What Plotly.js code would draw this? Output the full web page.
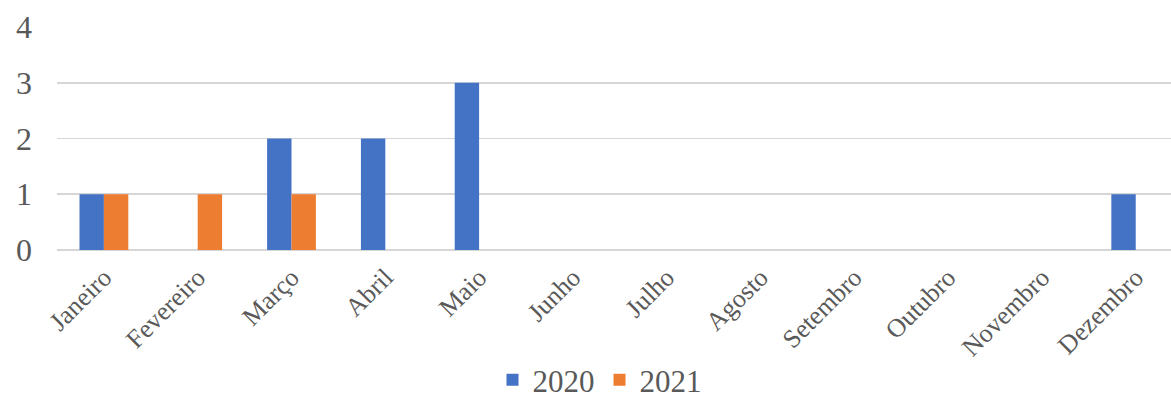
<!DOCTYPE html>
<html>
<head>
<meta charset="utf-8">
<script src="https://cdn.plot.ly/plotly-3.0.1.min.js"></script>
<style>
  html, body { margin: 0; padding: 0; background: #ffffff; }
  #chart { width: 1171px; height: 400px; }
</style>
</head>
<body>
<div id="chart"></div>
<script>
// Monthly counts for two years
const months = ["Janeiro", "Fevereiro", "Março", "Abril", "Maio", "Junho",
                "Julho", "Agosto", "Setembro", "Outubro", "Novembro", "Dezembro"];
const values2020 = [1, 0, 2, 2, 3, 0, 0, 0, 0, 0, 0, 1];
const values2021 = [1, 1, 1, 0, 0, 0, 0, 0, 0, 0, 0, 0];
const seriesNames = ["2020", "2021"];
const yTicks = [0, 1, 2, 3, 4];

const textColor = "#595959";
const serif = "Liberation Serif, Times New Roman, serif";

const traces = [
  {
    type: "bar", name: seriesNames[0], x: months, y: values2020,
    marker: { color: "#4472C4", line: { width: 0 } },
    hoverinfo: "x+y+name"
  },
  {
    type: "bar", name: seriesNames[1], x: months, y: values2021,
    marker: { color: "#ED7D31", line: { width: 0 } },
    hoverinfo: "x+y+name"
  }
];

const layout = {
  width: 1171, height: 400,
  margin: { l: 57, r: 0, t: 27, b: 150, pad: 0, autoexpand: false },
  paper_bgcolor: "#ffffff", plot_bgcolor: "#ffffff",
  barmode: "group", bargap: 0.48, bargroupgap: 0,
  font: { family: serif, color: textColor },
  xaxis: {
    type: "category",
    range: [-0.5, 11.376],
    showgrid: false, zeroline: false, showline: false,
    ticks: "", tickangle: -45,
    tickfont: { family: serif, size: 26, color: textColor },
    ticklabelstandoff: 6,
    automargin: false,
    fixedrange: true
  },
  yaxis: {
    range: [0, 4],
    tickvals: yTicks,
    showgrid: true, gridcolor: "#D6D6D6", gridwidth: 1.6,
    zeroline: true, zerolinecolor: "#D6D6D6", zerolinewidth: 1.6,
    showline: false, ticks: "",
    tickfont: { family: serif, size: 32, color: textColor },
    ticklabelstandoff: 24,
    automargin: false,
    fixedrange: true
  },
  showlegend: true,
  legend: {
    orientation: "h",
    x: 0.487, xanchor: "center",
    yref: "container",
    y: 0.05, yanchor: "middle",
    font: { family: serif, size: 31, color: textColor },
    itemwidth: 30,
    traceorder: "normal"
  }
};

Plotly.newPlot("chart", traces, layout, { displayModeBar: false, staticPlot: true });
</script>
</body>
</html>
